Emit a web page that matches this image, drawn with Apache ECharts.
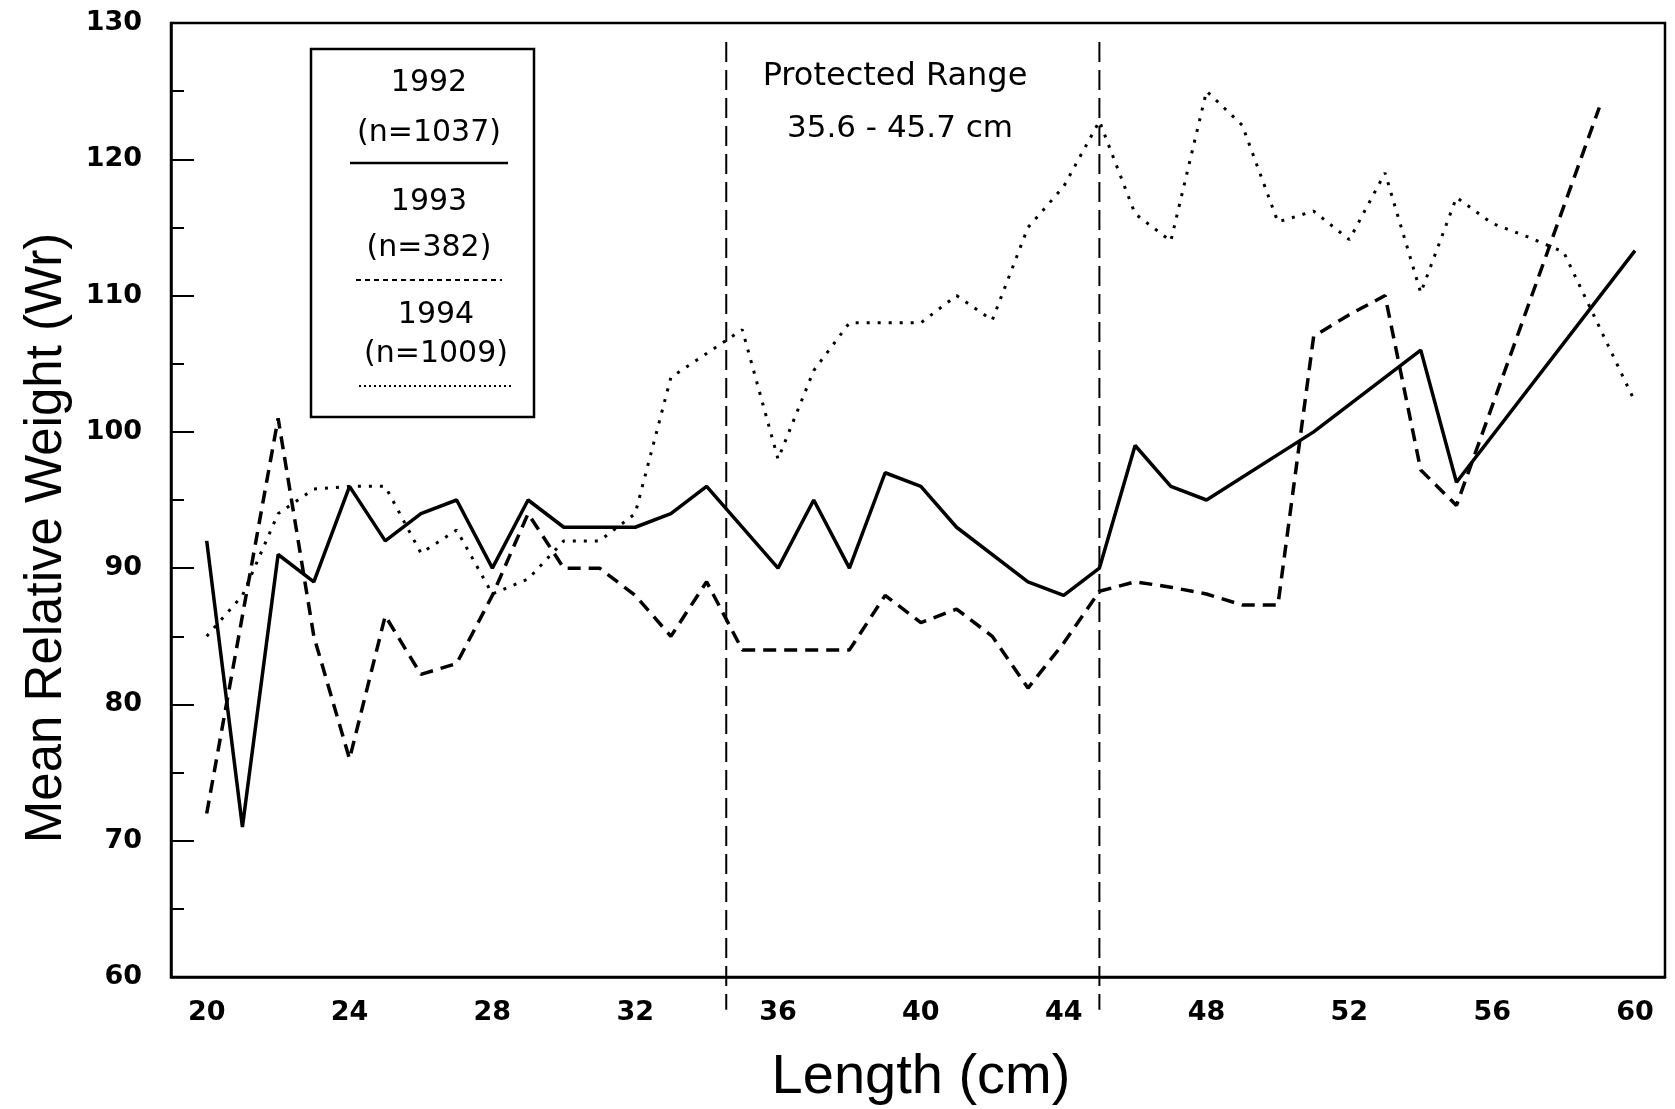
<!DOCTYPE html>
<html><head><meta charset="utf-8">
<script src="https://cdn.jsdelivr.net/npm/echarts@6/dist/echarts.min.js"></script>
<style>html,body{margin:0;padding:0;background:#fff}#chart{width:1675px;height:1109px}</style>
</head><body><div id="chart"></div>
<script>
// ---- data ----
const lengths = [20,21,22,23,24,25,26,27,28,29,30,31,32,33,34,35,36,37,38,39,40,41,42,43,44,45,46,47,48,49,50,51,52,53,54,55,56,57,58,59,60];
const wr1992 = [92,71,91,89,96,92,94,95,90,95,93,93,93,94,96,null,90,95,90,97,96,93,null,89,88,90,99,96,95,null,null,100,null,null,106,96.3,null,null,null,null,113.3];
const wr1993 = [72,null,101,85,76,86.5,82.2,83,88,94,90,90,88,85,89,84,84,84,84,88,86,87,85,81.2,84.5,88.3,89,88.6,88.1,87.3,87.3,107,108.6,110,97.2,94.6,null,null,null,123.8,null];
const wr1994 = [85,88,94,95.8,96,96,91.1,92.8,88.1,89.2,92,92,94,104,null,107.5,98,104.5,108,108,108,110,108.2,115,118,122.8,116,114,125,122.5,115.4,116.2,114.1,119,110.2,117.2,115.3,114.3,113.2,null,102.2];
const xTickLabels = [20,24,28,32,36,40,44,48,52,56,60];
const yMin = 60, yMax = 130, yStep = 10;
const protectedLines = [34.55, 45.0];
const protectedSpan = [128.6, 57.6];
const seriesNames = ['1992','1993','1994'];
const seriesN = ['(n=1037)','(n=382)','(n=1009)'];

function pairs(arr){ return lengths.map((l,i)=>[l,arr[i]]).filter(p=>p[1]!==null); }

const lineStyles = [
  {color:'#000', width:3.5, type:'solid'},
  {color:'#000', width:3.5, type:[13,8]},
  {color:'#000', width:3, type:[3,8]}
];

const chart = echarts.init(document.getElementById('chart'), null, {renderer:'canvas'});
const tickFont = {fontFamily:'DejaVu Sans', fontWeight:'bold', fontSize:27, color:'#000'};

const legendX = 311, legendY = 49, legendW = 223, legendH = 368;
const legendItems = [
  {t1:83, t2:133, line:163, x1:350, x2:508},
  {t1:202, t2:248, line:280, x1:356, x2:502},
  {t1:315, t2:354, line:386, x1:359, x2:513}
];
const graphics = [
  {type:'rect', shape:{x:legendX,y:legendY,width:legendW,height:legendH}, style:{fill:'#fff', stroke:'#000', lineWidth:2.5}, z:10},
  {type:'text', x:921, y:1078, style:{text:'Length (cm)', font:'56px "Liberation Sans", Arial, sans-serif', fill:'#000', textAlign:'center', textVerticalAlign:'middle'}, z:10},
  {type:'text', x:47, y:538, rotation:Math.PI/2, style:{text:'Mean Relative Weight (Wr)', font:'51px "Liberation Sans", Arial, sans-serif', fill:'#000', textAlign:'center', textVerticalAlign:'middle'}, z:10},
  {type:'text', x:895, y:77, style:{text:'Protected Range', font:'32px "DejaVu Sans", sans-serif', fill:'#000', textAlign:'center', textVerticalAlign:'middle'}, z:10},
  {type:'text', x:900, y:129, style:{text:'35.6 - 45.7 cm', font:'31px "DejaVu Sans", sans-serif', fill:'#000', textAlign:'center', textVerticalAlign:'middle'}, z:10}
];
legendItems.forEach((it,i)=>{
  const cx = (it.x1+it.x2)/2;
  graphics.push({type:'text', x:cx, y:it.t1, style:{text:seriesNames[i], font:'30px "DejaVu Sans", sans-serif', fill:'#000', textAlign:'center', textVerticalAlign:'middle'}, z:11});
  graphics.push({type:'text', x:cx, y:it.t2, style:{text:seriesN[i], font:'30px "DejaVu Sans", sans-serif', fill:'#000', textAlign:'center', textVerticalAlign:'middle'}, z:11});
  graphics.push({type:'line', shape:{x1:it.x1,y1:it.line,x2:it.x2,y2:it.line}, style:{stroke:'#000', lineWidth:i===0?2.5:2, lineDash: i===0?null:(i===1?[5,4]:[2,3])}, z:11});
});

const dataSeries = [wr1992, wr1993, wr1994].map((arr,i)=>({
  name:seriesNames[i], type:'line', data:pairs(arr), showSymbol:false, symbol:'none',
  lineStyle:lineStyles[i], connectNulls:true, z:3
}));
const protectedSeries = protectedLines.map(v=>({
  type:'line', data:[[v,protectedSpan[0]],[v,protectedSpan[1]]], showSymbol:false, symbol:'none',
  clip:false, silent:true, lineStyle:{color:'#000', width:2, type:[20,8]}, z:2
}));

const option = {
  animation:false,
  backgroundColor:'#fff',
  grid:{left:171, top:23, width:1494, height:954, show:true, borderColor:'#000', borderWidth:2.5, backgroundColor:'transparent'},
  xAxis:{type:'value', min:19, max:60.84,
    axisLine:{show:true, lineStyle:{color:'#000', width:2.5}},
    axisTick:{show:false},
    splitLine:{show:false},
    axisLabel:{...tickFont, margin:22, customValues:xTickLabels, showMinLabel:true, showMaxLabel:true}
  },
  yAxis:{type:'value', min:yMin, max:yMax, interval:yStep,
    axisLine:{show:true, lineStyle:{color:'#000', width:2.5}},
    axisTick:{show:true, inside:true, length:23, lineStyle:{color:'#000', width:2}},
    minorTick:{show:true, splitNumber:2, length:13, lineStyle:{color:'#000', width:2}},
    splitLine:{show:false},
    axisLabel:{...tickFont, margin:29}
  },
  graphic:graphics,
  series:dataSeries.concat(protectedSeries)
};
chart.setOption(option);
</script>
</body></html>
